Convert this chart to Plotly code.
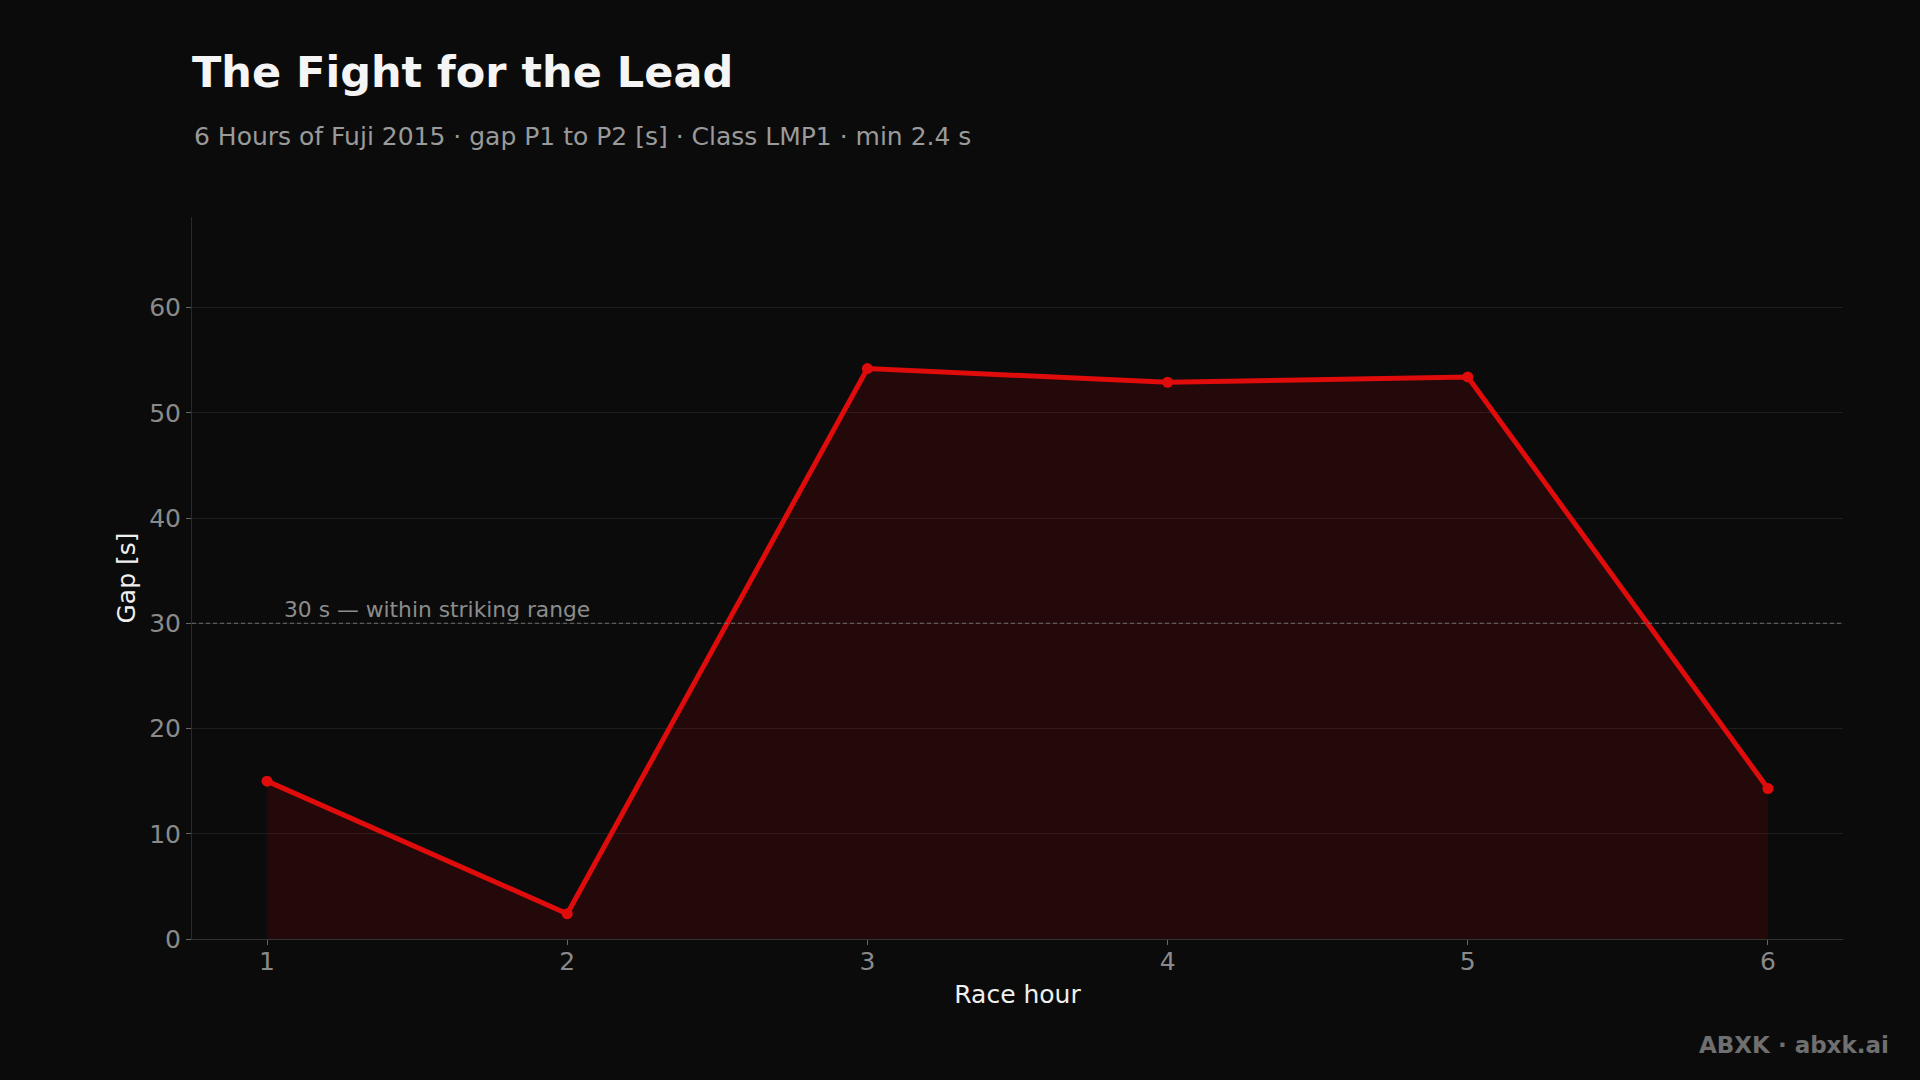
import plotly.graph_objects as go

hours = [1, 2, 3, 4, 5, 6]
gap_s = [15.0, 2.4, 54.2, 52.9, 53.4, 14.3]
y_ticks = [0, 10, 20, 30, 40, 50, 60]
threshold = 30

title = "The Fight for the Lead"
subtitle = "6 Hours of Fuji 2015 · gap P1 to P2 [s] · Class LMP1 · min 2.4 s"
threshold_label = "30 s — within striking range"
credit = "ABXK · abxk.ai"

FONT = "DejaVu Sans"
BG = "#0b0b0b"
RED = "#e00b0b"

W, H = 1920, 1080
ML, MR, MT, MB = 192, 77, 217, 141
PW, PH = W - ML - MR, H - MT - MB

fig = go.Figure()
fig.add_trace(go.Scatter(
    x=hours, y=gap_s, mode="lines+markers",
    line=dict(color=RED, width=5),
    marker=dict(color=RED, size=11),
    fill="tozeroy", fillcolor="rgba(200,0,0,0.13)",
    showlegend=False, hoverinfo="x+y",
))

fig.add_shape(type="line", xref="paper", x0=0, x1=1, yref="y", y0=threshold, y1=threshold,
              line=dict(color="#707070", width=1.2, dash="4px,3px"), layer="above")
fig.add_annotation(x=1.05, y=threshold, xref="x", yref="y", text=threshold_label,
                   showarrow=False, xanchor="left", yanchor="bottom", yshift=-1,
                   font=dict(family=FONT, size=21.8, color="#8c8c8c"))

fig.add_annotation(x=0, y=1 + (MT - 137) / PH, xref="paper", yref="paper",
                   text=subtitle, showarrow=False, xanchor="left", yanchor="middle",
                   font=dict(family=FONT, size=25, color="#9a9a9a"))
fig.add_annotation(x=1 + (1891 - (W - MR)) / PW, y=-(1045 - (H - MB)) / PH,
                   xref="paper", yref="paper", text=f"<b>{credit}</b>", showarrow=False,
                   xanchor="right", yanchor="middle",
                   font=dict(family=FONT, size=23, color="#6f6f6f"))

fig.update_layout(
    width=W, height=H,
    paper_bgcolor=BG, plot_bgcolor=BG,
    margin=dict(l=ML, r=MR, t=MT, b=MB),
    font=dict(family=FONT, color="#8a8a8a"),
    title=dict(
        text=f"<b>{title}</b>",
        x=0, xanchor="left", xref="paper",
        y=1 - 72 / H, yanchor="middle", yref="container",
        font=dict(family=FONT, size=43, color="#f5f5f5"),
    ),
    xaxis=dict(
        range=[0.75, 6.25], tickvals=hours, ticktext=[str(h) for h in hours],
        showgrid=False, zeroline=False,
        showline=True, linecolor="#333333", linewidth=1,
        ticks="outside", ticklen=5, tickcolor="#666666",
        ticklabelstandoff=-5,
        tickfont=dict(family=FONT, size=25, color="#8a8a8a"),
        title=dict(text="Race hour", font=dict(family=FONT, size=25, color="#f0f0f0"), standoff=10),
    ),
    yaxis=dict(
        range=[0, 68.6], tickvals=y_ticks,
        showgrid=True, gridcolor="#1e1e1e", gridwidth=1, zeroline=False,
        showline=True, linecolor="#2a2a2a", linewidth=1,
        ticks="outside", ticklen=5, tickcolor="#666666",
        tickfont=dict(family=FONT, size=25, color="#8a8a8a"),
        title=dict(text="Gap [s]", font=dict(family=FONT, size=25, color="#f0f0f0"), standoff=6),
    ),
)

fig.write_html("out.html", config={"displayModeBar": False},
               post_script="document.body.style.margin='0px';document.body.style.overflow='hidden';")
